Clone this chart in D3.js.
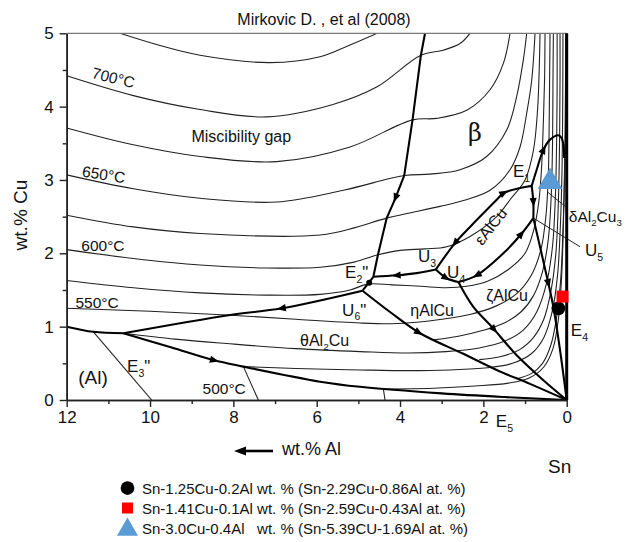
<!DOCTYPE html>
<html><head><meta charset="utf-8">
<script src="https://cdn.jsdelivr.net/npm/d3@7"></script>
<style>
body{margin:0;background:#fff;}
svg{font-family:"Liberation Sans",Arial,sans-serif;}
</style></head>
<body><svg id="c" width="630" height="542"></svg>
<script>
// ---------- tick labels ----------
const xTickLabels = [12,10,8,6,4,2,0];
const xMinor = [11,9,7,5,3,1];
const yTickLabels = [0,1,2,3,4,5];
const yMinor = [0.5,1.5,2.5,3.5,4.5];

// ---------- isotherms (wt.% Al, wt.% Cu) ----------
const iso725 = [[10.72,5.0],[9.8,4.84],[8.8,4.70],[7.12,4.60],[5.92,4.68],[5.2,4.84],[4.55,5.0]];
const iso700 = [[12,4.42],[10.4,4.15],[8.8,3.96],[7.2,3.86],[5.61,4.03],[4.55,4.27],[3.50,4.70],[2.96,4.77],[2.56,4.86],[2.32,5.0]];
const iso675 = [[12,3.71],[10.4,3.48],[8.8,3.32],[6.96,3.25],[5.2,3.45],[3.70,3.82],[3.12,3.84],[2.40,3.95],[1.84,4.23],[1.52,4.59],[1.36,5.0]];
const iso650 = [[12,3.07],[10.4,2.88],[8.8,2.75],[6.96,2.70],[5.36,2.86],[3.90,3.06],[3.28,3.08],[2.56,3.14],[1.92,3.32],[1.44,3.68],[1.20,4.14],[1.04,4.64],[0.96,5.0]];
const iso625 = [[12,2.52],[10.4,2.36],[8.8,2.27],[5.92,2.25],[5.08,2.35],[4.32,2.48],[3.04,2.64],[2.48,2.72],[1.84,2.86],[1.36,3.14],[1.12,3.45],[0.96,3.91],[0.84,4.36],[0.76,5.0]];
const iso600 = [[12,2.05],[10.4,1.93],[8.8,1.84],[7.2,1.80],[5.92,1.81],[5.1,1.88],[4.53,1.98],[4.0,2.04],[3.4,2.06],[2.88,2.09],[2.32,2.23],[1.68,2.50],[1.36,2.73],[1.0,3.0],[0.8,3.4],[0.7,3.95],[0.66,4.5],[0.64,5.0]];
const iso575 = [[12,1.63],[10.4,1.53],[8.8,1.46],[7.2,1.43],[5.92,1.44],[5.2,1.5],[4.78,1.58],[4.2,1.57],[3.5,1.55],[2.9,1.53],[2.4,1.55],[1.9,1.62],[1.4,1.78],[1.0,2.0],[0.8,2.3],[0.67,2.7],[0.6,3.2],[0.56,3.8],[0.53,4.4],[0.52,5.0]];
const iso550 = [[12,1.25],[10,1.21],[8.16,1.16],[6.5,1.1],[4.96,1.05],[4.2,1.04],[3.6,1.06],[3.0,1.1],[2.3,1.17],[1.7,1.28],[1.2,1.45],[0.85,1.7],[0.62,2.05],[0.5,2.5],[0.44,3.1],[0.42,3.8],[0.41,4.4],[0.40,5.0]];
const iso537 = [[3.2,0.82],[2.6,0.87],[2.0,0.95],[1.5,1.05],[1.1,1.2],[0.8,1.42],[0.58,1.75],[0.44,2.2],[0.37,2.8],[0.34,3.5],[0.33,4.3],[0.32,5.0]];
const iso525 = [[10.64,0.91],[9.4,0.83],[8.16,0.77],[6.5,0.7],[4.96,0.66],[3.8,0.64],[2.9,0.66],[2.1,0.71],[1.5,0.8],[1.05,0.95],[0.72,1.2],[0.48,1.6],[0.34,2.1],[0.27,2.8],[0.24,3.6],[0.23,4.3],[0.23,5.0]];
const iso512 = [[2.1,0.55],[1.6,0.59],[1.15,0.68],[0.8,0.85],[0.55,1.1],[0.38,1.48],[0.26,2.0],[0.2,2.7],[0.17,3.6],[0.16,4.4],[0.16,5.0]];
const iso500 = [[7.76,0.455],[6.5,0.43],[4.96,0.41],[3.8,0.40],[2.8,0.41],[1.9,0.44],[1.3,0.5],[0.85,0.63],[0.55,0.85],[0.35,1.2],[0.22,1.7],[0.15,2.4],[0.11,3.2],[0.095,4.1],[0.09,5.0]];
const iso487 = [[1.2,0.29],[0.85,0.36],[0.58,0.5],[0.38,0.75],[0.25,1.1],[0.15,1.6],[0.09,2.3],[0.05,3.2],[0.03,4.2],[0.02,5.0]];
const iso475 = [[4.40,0.15],[3.2,0.16],[2.2,0.19],[1.4,0.23],[0.9,0.3],[0.55,0.45],[0.33,0.7],[0.2,1.1],[0.12,1.7],[0.07,2.6],[0.03,3.6],[0.01,4.5]];
const isoThinSegs = [
  [[11.36,0.93],[9.96,0]],
  [[7.76,0.455],[7.40,0]],
  [[4.40,0.15],[4.36,0]]
];

// ---------- univariant valleys (thick) ----------
const vBeta   = [[3.40,5.0],[3.50,4.70],[3.70,3.82],[3.90,3.06],[4.12,2.74],[4.32,2.48],[4.53,1.98],[4.64,1.68]];
const vU3E2   = [[3.14,1.78],[3.6,1.73],[4.08,1.70],[4.64,1.68]];
const vE2U6   = [[4.64,1.68],[4.90,1.49]];
const vU6E3   = [[4.90,1.49],[6.84,1.25],[8.08,1.16],[10.64,0.91]];
const vAlLiq  = [[12,1.0],[11.36,0.93],[10.64,0.91]];
const vE3E5   = [[10.64,0.91],[9.5,0.72],[8.48,0.545],[7.76,0.455],[5.92,0.25],[4.96,0.18],[3,0.09],[1.5,0.04],[0,0]];
const vU6Sn   = [[4.90,1.49],[4.24,1.20],[3.52,0.91],[2.48,0.63],[1.68,0.41],[0.88,0.22],[0,0]];
const vU4Sn   = [[2.60,1.61],[2.24,1.27],[1.80,1.0],[1.2,0.61],[0.56,0.27],[0,0]];
const vU5Sn   = [[0.80,2.48],[0.44,1.59],[0.32,1.27],[0.16,0.68],[0,0]];
const vU3U4   = [[3.14,1.78],[2.88,1.66],[2.60,1.61]];
const vU4U5   = [[2.60,1.61],[2.16,1.70],[1.52,2.0],[1.08,2.27],[0.80,2.48]];
const vU3E1   = [[3.14,1.78],[2.68,2.14],[2.32,2.36],[1.68,2.73],[1.52,2.82],[1.12,2.89],[0.84,2.92]];
const vE1U5   = [[0.84,2.92],[0.80,2.69],[0.80,2.48]];
const vE1loop = [[0.84,2.92],[0.72,3.14],[0.56,3.41],[0.40,3.55],[0.2,3.61],[0.12,3.57],[0.08,3.48],[0.06,3.3]];
// arrows: [valley, fraction along, direction]
const arrows = [
  [vBeta,0.67,1],[vU3E2,0.63,1],[vU6E3,0.34,1],[vE3E5,0.21,1],
  [vU6Sn,0.3,1],[vU4Sn,0.37,1],[vU5Sn,0.36,1],[vE1U5,0.5,1],[vE1loop,0.45,1],
  [vU3E1,0.25,-1],[vU3E1,0.78,1],[vU4U5,0.2,-1],[vU4U5,0.8,1],[vU3U4,0.5,1]
];

// ---------- alloys ----------
const alloyAl = [0.2,0.1,0.4];
const alloyCu = [1.25,1.41,3.0];
const alloyNames = ["Sn-1.25Cu-0.2Al wt. % (Sn-2.29Cu-0.86Al at. %)",
                    "Sn-1.41Cu-0.1Al wt. % (Sn-2.59Cu-0.43Al at. %)",
                    "Sn-3.0Cu-0.4Al   wt. % (Sn-5.39CU-1.69Al at. %)"];
const alloyShapes = ["circle","square","triangle"];
const alloyColors = ["#000000","#ff0000","#5b9bd5"];

// ---------- scales ----------
const svg = d3.select("#c");
const x = d3.scaleLinear().domain([12,0]).range([66.7,566.7]);
const y = d3.scaleLinear().domain([0,5]).range([400,33.3]);
const line = d3.line().x(d=>x(d[0])).y(d=>y(d[1])).curve(d3.curveCatmullRom.alpha(0.5));
const lineLin = d3.line().x(d=>x(d[0])).y(d=>y(d[1]));

const plot = svg.append("g");
plot.append("defs").append("clipPath").attr("id","clip").append("rect")
  .attr("x",x(12)).attr("y",y(5)).attr("width",x(0)-x(12)).attr("height",y(0)-y(5));
const g = plot.append("g").attr("clip-path","url(#clip)");

// isotherms
const isos=[iso725,iso700,iso675,iso650,iso625,iso600,iso575,iso550,iso537,iso525,iso512,iso500,iso487,iso475];
g.selectAll("path.iso").data(isos).join("path").attr("class","iso")
  .attr("d",line).attr("fill","none").attr("stroke","#222").attr("stroke-width",1.1);
g.selectAll("path.seg").data(isoThinSegs).join("path").attr("class","seg")
  .attr("d",lineLin).attr("fill","none").attr("stroke","#222").attr("stroke-width",1.1);

// valleys
const valleys=[vBeta,vU3E2,vE2U6,vU6E3,vAlLiq,vE3E5,vU6Sn,vU4Sn,vU5Sn,vU3U4,vU4U5,vU3E1,vE1U5,vE1loop];
const vp = g.selectAll("path.val").data(valleys).join("path").attr("class","val")
  .attr("d",(d,i)=> i===0 ? lineLin(d) : line(d)).attr("fill","none").attr("stroke","#000").attr("stroke-width",2.1);

// arrows
arrows.forEach(a=>{
  const idx = valleys.indexOf(a[0]);
  const node = vp.nodes()[idx];
  const L = node.getTotalLength();
  const p = node.getPointAtLength(L*a[1]);
  const p1 = node.getPointAtLength(Math.max(0,L*a[1]-2));
  const p2 = node.getPointAtLength(Math.min(L,L*a[1]+2));
  let ang = Math.atan2(p2.y-p1.y,p2.x-p1.x)*180/Math.PI + (a[2]<0?180:0);
  g.append("path").attr("d","M5,0L-4,-3.6L-4,3.6Z").attr("fill","#000")
   .attr("transform",`translate(${p.x},${p.y}) rotate(${ang})`);
});
// E2'' node blob
g.append("circle").attr("cx",x(4.74)).attr("cy",y(1.6)).attr("r",3).attr("fill","#000");

// leader lines
const leaders=[[[0.47,2.84],[-0.03,2.61]],[[0.80,2.48],[-0.32,2.09]]];
plot.selectAll("path.lead").data(leaders).join("path").attr("class","lead")
  .attr("d",lineLin).attr("stroke","#222").attr("stroke-width",1);

// ---------- axes ----------
const ax = svg.append("g").attr("transform",`translate(0,${y(0)})`)
  .call(d3.axisBottom(x).tickValues(xTickLabels).tickSize(7).tickSizeOuter(0).tickPadding(4).tickFormat(d3.format("d")));
const axm = svg.append("g").attr("transform",`translate(0,${y(0)})`)
  .call(d3.axisBottom(x).tickValues(xMinor).tickSize(4).tickFormat("").tickSizeOuter(0));
const ay = svg.append("g").attr("transform",`translate(${x(12)},0)`)
  .call(d3.axisLeft(y).tickValues(yTickLabels).tickSize(7).tickSizeOuter(0).tickPadding(6).tickFormat(d3.format("d")));
const aym = svg.append("g").attr("transform",`translate(${x(12)},0)`)
  .call(d3.axisLeft(y).tickValues(yMinor).tickSize(4).tickFormat("").tickSizeOuter(0));
[ax,axm,ay,aym].forEach(a=>{
  a.selectAll("path.domain").attr("stroke","#222").attr("stroke-width",1.6);
  a.selectAll("line").attr("stroke","#222").attr("stroke-width",1.4);
  a.selectAll("text").attr("font-size",17).attr("fill","#111").attr("font-family","Liberation Sans, Arial, sans-serif");
});
// top border and right thick Sn axis
svg.append("line").attr("x1",x(12)).attr("x2",x(0)).attr("y1",y(5)).attr("y2",y(5))
  .attr("stroke","#777").attr("stroke-width",1.3);
svg.append("line").attr("x1",x(0)).attr("x2",x(0)).attr("y1",y(5)).attr("y2",y(0))
  .attr("stroke","#000").attr("stroke-width",3);

// ---------- alloy markers ----------
function marker(sel,shape,cx,cy,color,sz){
  if(shape==="circle") sel.append("circle").attr("cx",cx).attr("cy",cy).attr("r",sz*0.55).attr("fill",color);
  else if(shape==="square") sel.append("rect").attr("x",cx-sz/2).attr("y",cy-sz/2).attr("width",sz).attr("height",sz).attr("fill",color);
  else sel.append("path").attr("d",`M${cx},${cy-sz*0.62}L${cx+sz*0.62},${cy+sz*0.45}L${cx-sz*0.62},${cy+sz*0.45}Z`).attr("fill",color);
}
const mSizes=[12.5,12,20];
alloyAl.forEach((a,i)=>marker(svg,alloyShapes[i],x(a),y(alloyCu[i]),alloyColors[i],mSizes[i]));

// ---------- text ----------
function txt(px,py,s,size,opt={}){
  const t=svg.append("text").attr("x",px).attr("y",py).attr("font-size",size).attr("fill","#111").text(s);
  if(opt.anchor) t.attr("text-anchor",opt.anchor);
  if(opt.rot!==undefined) t.attr("transform",`rotate(${opt.rot},${px},${py})`);
  if(opt.family) t.attr("font-family",opt.family);
  return t;
}
function sub(X,Y,main,subs,suffix,size){
  const t=svg.append("text").attr("x",x(X)).attr("y",y(Y)).attr("font-size",size).attr("fill","#111");
  t.append("tspan").text(main);
  t.append("tspan").attr("font-size",size*0.62).attr("dy",size*0.28).text(subs);
  if(suffix) t.append("tspan").attr("dy",-size*0.28).text(suffix);
  return t;
}
txt(324,25,"Mirkovic D. , et al (2008)",16,{anchor:"middle"});
txt(27,215,"wt.% Cu",19,{anchor:"middle",rot:-90});
txt(282,455,"wt.% Al",18);
svg.append("line").attr("x1",273).attr("x2",243).attr("y1",451).attr("y2",451).attr("stroke","#000").attr("stroke-width",2.6);
svg.append("path").attr("d","M234,451L246,446.5L246,455.5Z").attr("fill","#000");
txt(x(0)-7,473,"Sn",19,{anchor:"middle"});

txt(x(10.91),y(4.39)+5,"700°C",15.5,{anchor:"middle",rot:14});
txt(x(11.13),y(3.07)+5,"650°C",15.5,{anchor:"middle",rot:9});
txt(x(11.13),y(2.11)+6,"600°C",15.5,{anchor:"middle"});
txt(x(11.27),y(1.34)+6,"550°C",15.5,{anchor:"middle"});
txt(x(8.22),y(0.16)+6,"500°C",15.5,{anchor:"middle"});
txt(x(7.81),y(3.6)+6,"Miscibility gap",16,{anchor:"middle"});
txt(x(2.2),y(3.64)+8,"β",24,{anchor:"middle",family:"DejaVu Serif, serif"});
txt(x(1.72),y(2.39)+5,"εAlCu",16,{anchor:"middle",rot:-52});
txt(x(3.23),y(1.23)+6,"ηAlCu",16,{anchor:"middle"});
txt(x(1.43),y(1.43)+6,"ζAlCu",16,{anchor:"middle"});
sub(6.4,0.74,"θAl","2","Cu",16);
txt(x(11.37),y(0.31)+7,"(Al)",19,{anchor:"middle"});
sub(10.55,0.38,"E","3","\"",17);
sub(5.32,1.66,"E","2","\"",17);
sub(5.39,1.15,"U","6","\"",17);
sub(3.57,1.88,"U","3","",17);
sub(2.87,1.66,"U","4","",17);
sub(1.29,3.04,"E","1","",17);
sub(-0.05,2.43,"δAl","2","Cu",15.5).append("tspan").attr("font-size",15.5*0.62).attr("dy",15.5*0.28).text("3");
sub(-0.44,1.96,"U","5","",17);
sub(-0.1,0.87,"E","4","",17);
sub(1.7,-0.37,"E","5","",17);

// legend
const leg = svg.append("g");
alloyNames.forEach((n,i)=>{
  const cy = 488 + i*20;
  marker(leg,alloyShapes[i],127.5,cy,alloyColors[i],[12.5,11,17][i]);
  leg.append("text").attr("x",142).attr("y",cy+6).attr("font-size",15).attr("fill","#111")
    .style("white-space","pre").text(n);
});
</script></body></html>
